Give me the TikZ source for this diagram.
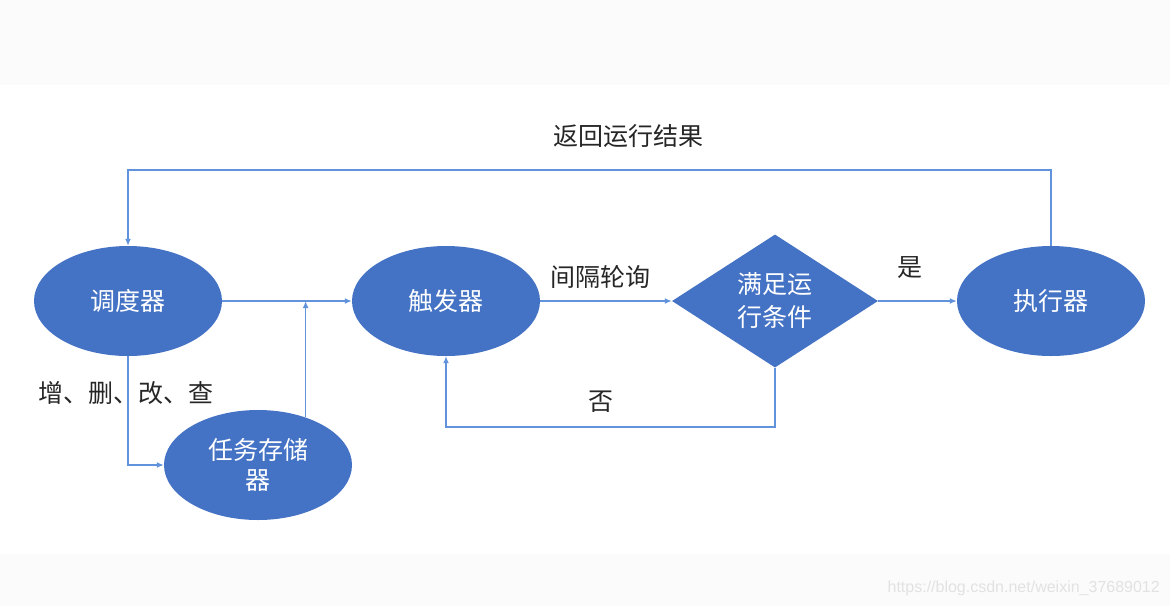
\documentclass[tikz,border=0pt]{standalone}
\usepackage{fontspec}
\newfontfamily\cjk{Noto Sans CJK SC}
\newfontfamily\wm{Liberation Sans}
\usetikzlibrary{shapes.geometric,arrows.meta}
\definecolor{nodeblue}{HTML}{4472C4}
\definecolor{lineblue}{HTML}{6192DC}
\definecolor{bandgray}{HTML}{FBFBFB}
\definecolor{labelgray}{HTML}{262626}
\definecolor{wmgray}{HTML}{E2E2E2}
\begin{document}
\begin{tikzpicture}[x=1pt,y=-1pt,
  ell/.style={ellipse, fill=nodeblue, draw=none, minimum width=188pt, minimum height=110pt, inner sep=0pt, text=white, font=\cjk\fontsize{25}{30}\selectfont, align=center},
  dia/.style={diamond, fill=nodeblue, draw=none, minimum width=206pt, minimum height=133pt, aspect=1.55, inner sep=0pt, text=white, font=\cjk\fontsize{25}{33}\selectfont, align=center},
  conn/.style={draw=lineblue, line width=1.6pt, -{Latex[length=7pt,width=6pt]}},
  lbl/.style={text=labelgray, font=\cjk\fontsize{25}{28}\selectfont, inner sep=0pt}
]
\useasboundingbox (0,0) rectangle (1170,606);
\fill[bandgray] (0,0) rectangle (1170,85);
\fill[bandgray] (0,554) rectangle (1170,606);

\node[ell] (sched) at (128,301) {调度器};
\node[ell] (store) at (258,465) {任务存储\\器};
\node[ell] (trig) at (446,301) {触发器};
\node[dia] (cond) at (775,301) {满足运\\行条件};
\node[ell] (exec) at (1051,301) {执行器};

\coordinate (nb) at (600,427);
\coordinate (tp) at (600,170);

\draw[conn] (sched.east) -- (trig.west);
\draw[conn] (store.45) -- (store.45 |- sched.east);
\draw[conn] (sched.south) |- (store.west);
\draw[conn] (trig.east) -- (cond.west);
\draw[conn] (cond.south) |- (nb) -| (trig.south);
\draw[conn] (cond.east) -- (exec.west);
\draw[conn] (exec.north) |- (tp) -| (sched.north);

\node[lbl] (l1) at (600,277) {间隔轮询};
\node[lbl] (l2) at (601,402) {否};
\node[lbl] (l3) at (910,268) {是};
\node[lbl] (l4) at (628,136) {返回运行结果};
\node[lbl] (l5) at (126,393) {增、删、改、查};

\node[anchor=base east, text=wmgray, font=\wm\fontsize{16}{18}\selectfont, inner sep=0pt] (wm) at (1160,592) {https://blog.csdn.net/weixin\_37689012};
\end{tikzpicture}
\end{document}
